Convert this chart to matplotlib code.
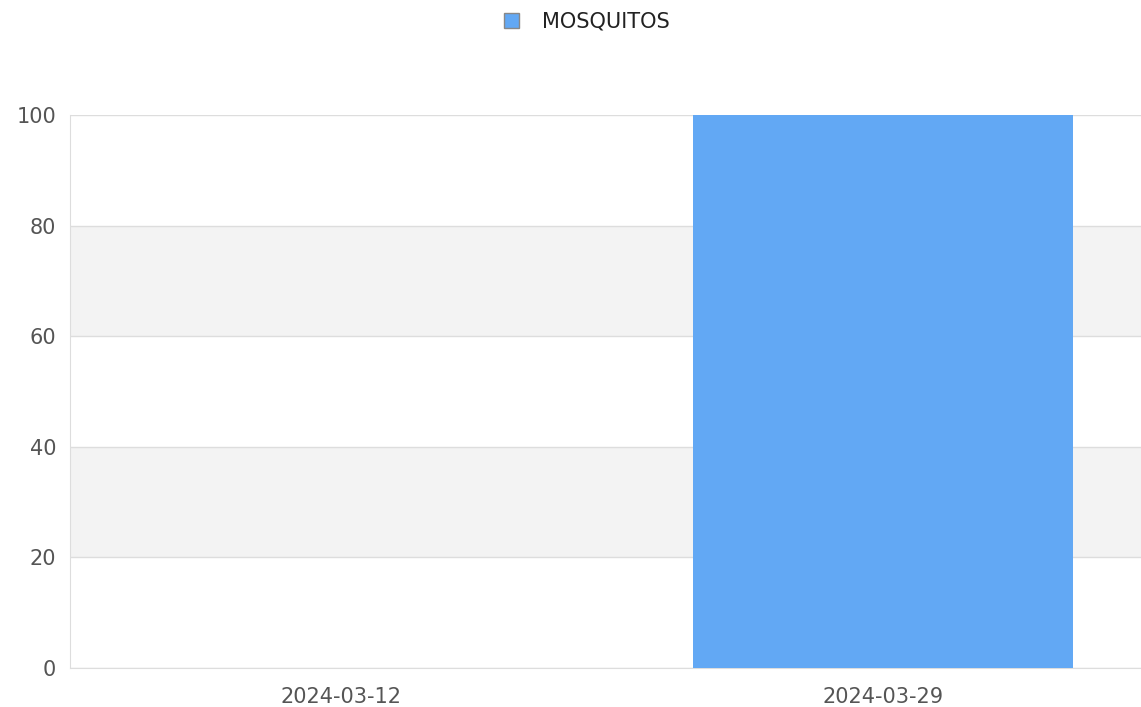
import matplotlib
matplotlib.use("Agg")
import matplotlib.pyplot as plt
from matplotlib.patches import Patch

categories = ["2024-03-12", "2024-03-29"]
series_name = "MOSQUITOS"
values = [0, 100]
yticks = [0, 20, 40, 60, 80, 100]

bar_color = "#62a8f4"
text_color = "#555555"
grid_color = "#dddddd"
band_color = "#f3f3f3"

fig = plt.figure(figsize=(11.41, 7.07), dpi=100)
W, H = 1141, 707
left, right, top, bottom = 70, 1154, 115, 668
ax = fig.add_axes([left / W, 1 - bottom / H, (right - left) / W, (bottom - top) / H])

x = list(range(len(categories)))
ax.bar(x, values, width=0.702, color=bar_color, zorder=3)
ax.set_xlim(-0.5, len(categories) - 0.5)
ax.set_ylim(0, 100)

# alternating bands
for i in range(len(yticks) - 1):
    if i % 2 == 1:
        ax.axhspan(yticks[i], yticks[i + 1], color=band_color, zorder=0, lw=0)
for t in yticks:
    ax.axhline(t, color=grid_color, lw=1, zorder=1)

ax.set_yticks(yticks)
ax.set_xticks(x)
ax.set_xticklabels(categories)
ax.tick_params(axis="both", length=0, colors=text_color, labelsize=15)
ax.tick_params(axis="y", pad=10)
ax.tick_params(axis="x", pad=14)
for s in ["top", "right"]:
    ax.spines[s].set_visible(False)
ax.spines["left"].set_color(grid_color)
ax.spines["bottom"].set_color(grid_color)

handle = Patch(facecolor=bar_color, edgecolor="#888888", lw=1)
fig.legend([handle], [series_name], loc="center", bbox_to_anchor=(587 / W, 1 - 22 / H),
           frameon=False, fontsize=15, handlelength=0.7, handleheight=0.7,
           handletextpad=1.1, labelcolor="#222222")

fig.savefig("out.png", dpi=100)
